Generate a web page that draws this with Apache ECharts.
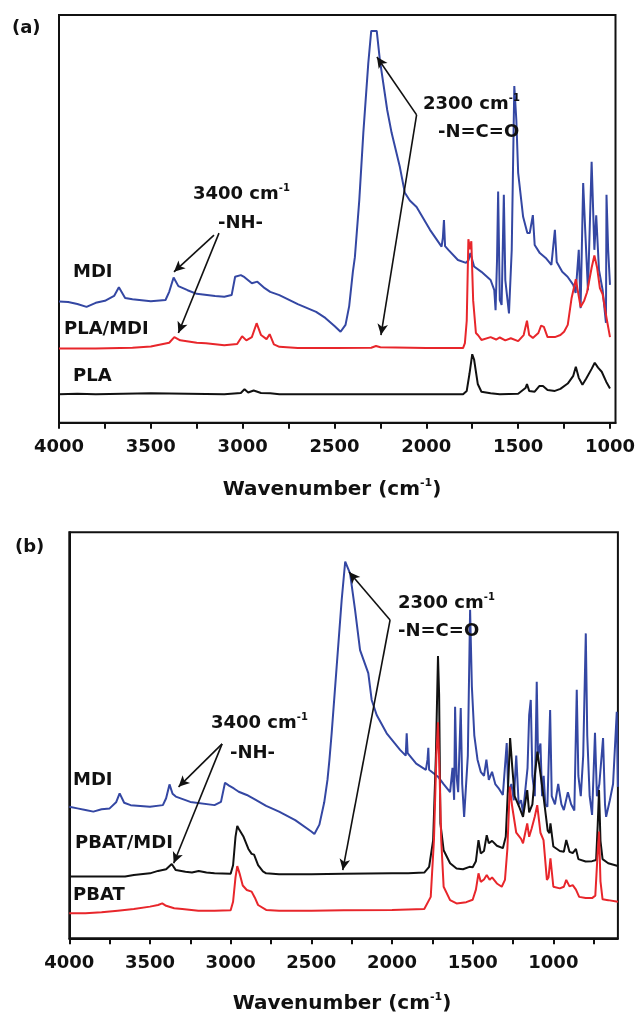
<!DOCTYPE html>
<html><head><meta charset="utf-8">
<script src="https://cdn.jsdelivr.net/npm/echarts@6/dist/echarts.min.js"></script>
<style>html,body{margin:0;padding:0;background:#fff}#c{width:636px;height:1016px}</style>
</head><body><div id="c"></div>
<script>
// ---------- Panel (a) data: [wavenumber (cm-1), relative intensity] ----------
const mdiA = [[4000,29.7],[3950,29.6],[3900,29.1],[3850,28.4],[3800,29.4],[3750,29.9],[3700,31.1],[3674,33.2],[3640,30.6],[3600,30.3],[3500,29.8],[3420,30.1],[3400,32.1],[3376,35.6],[3350,33.5],[3300,32.5],[3250,31.6],[3150,31.1],[3100,30.9],[3060,31.3],[3041,35.8],[3010,36.2],[2990,35.7],[2950,34.2],[2920,34.6],[2880,33.0],[2850,32.1],[2800,31.3],[2700,29.1],[2600,27.2],[2550,25.7],[2500,23.7],[2467,22.3],[2440,24.0],[2420,28.6],[2400,37.0],[2389,40.6],[2365,54.6],[2343,71.1],[2316,88.2],[2300,96.1],[2270,96.1],[2253,89.0],[2213,76.7],[2189,71.1],[2144,62.7],[2117,56.4],[2090,54.5],[2053,52.9],[1980,47.3],[1917,43.2],[1910,45.3],[1904,49.7],[1898,43.3],[1880,42.4],[1828,39.9],[1784,39.2],[1770,39.9],[1760,41.6],[1740,38.3],[1700,37.0],[1650,35.0],[1630,32.5],[1623,27.6],[1615,39.9],[1609,56.7],[1600,30.1],[1590,28.9],[1578,55.9],[1570,35.0],[1550,26.8],[1535,42.4],[1521,82.6],[1510,74.3],[1500,61.3],[1473,50.5],[1450,46.5],[1437,46.5],[1420,50.9],[1410,43.6],[1382,41.6],[1350,40.4],[1319,38.7],[1300,47.3],[1290,39.4],[1260,37.0],[1231,35.8],[1200,33.8],[1187,31.8],[1170,42.4],[1160,28.1],[1146,58.8],[1135,47.3],[1120,32.5],[1100,64.0],[1085,42.4],[1075,50.9],[1060,37.5],[1040,32.5],[1022,24.5],[1019,55.9],[1010,42.4],[1000,33.8]];
const plaMdiA = [[4000,18.2],[3800,18.2],[3600,18.4],[3500,18.7],[3400,19.6],[3372,21.0],[3340,20.2],[3250,19.6],[3200,19.5],[3100,19.0],[3030,19.3],[3003,21.2],[2980,20.2],[2950,21.0],[2924,24.4],[2900,21.5],[2870,20.5],[2853,21.7],[2830,19.2],[2800,18.6],[2700,18.3],[2500,18.3],[2300,18.4],[2274,18.8],[2250,18.5],[2000,18.3],[1800,18.3],[1790,19.5],[1780,25],[1771,45.0],[1762,42.5],[1755,44.5],[1745,30],[1730,22],[1717,21.4],[1700,20.3],[1650,21.0],[1620,20.4],[1600,20.9],[1570,20.2],[1540,20.7],[1500,20.0],[1470,21.5],[1452,25.0],[1440,21.5],[1420,20.8],[1390,22.0],[1375,23.8],[1360,23.5],[1340,21.0],[1300,21.0],[1270,21.5],[1250,22.3],[1230,24],[1209,30.6],[1186,35.2],[1170,31],[1160,28.4],[1140,30],[1125,32.0],[1100,38],[1085,41.0],[1070,38],[1055,33],[1040,31.5],[1020,26],[1000,21.0]];
const plaA = [[4000,7.0],[3900,7.1],[3800,7.0],[3500,7.2],[3100,7.0],[3010,7.3],[2990,8.2],[2970,7.4],[2940,7.9],[2900,7.3],[2850,7.2],[2800,7.0],[1800,7.0],[1780,7.8],[1765,12],[1750,16.8],[1740,15.5],[1720,9.5],[1700,7.6],[1650,7.2],[1600,7.0],[1500,7.1],[1460,8.5],[1452,9.5],[1440,7.8],[1410,7.6],[1385,9.0],[1365,9.0],[1340,8.0],[1300,7.8],[1270,8.3],[1230,9.6],[1200,11.5],[1186,13.7],[1170,11],[1150,9.3],[1130,10.8],[1100,13.2],[1083,14.7],[1065,13.5],[1045,12.5],[1020,10.0],[1000,8.4]];

// ---------- Panel (b) data ----------
const mdiB = [[4000,32.4],[3950,32.0],[3900,31.6],[3851,31.2],[3800,31.8],[3750,32.0],[3710,33.5],[3688,35.7],[3660,33.4],[3620,32.8],[3500,32.4],[3420,32.8],[3400,34.5],[3379,37.9],[3360,35.6],[3340,34.9],[3250,33.6],[3100,32.8],[3060,33.6],[3035,38.3],[3010,37.6],[2980,36.9],[2950,36.1],[2900,35.3],[2850,34.2],[2780,32.6],[2700,31.2],[2600,29.1],[2500,26.3],[2481,25.7],[2450,28.0],[2420,33.5],[2400,39.0],[2388,43.9],[2374,50.5],[2343,66.9],[2312,83.3],[2290,92.8],[2280,92.8],[2260,89.9],[2229,80.9],[2198,71.0],[2147,65.3],[2126,58.7],[2095,55.0],[2033,50.5],[1950,46.4],[1915,45.0],[1909,50.5],[1903,45.6],[1850,43.0],[1790,41.5],[1780,44.0],[1775,46.9],[1770,41.5],[1715,39.8],[1680,38.0],[1640,36.0],[1625,42.0],[1615,34.1],[1609,57.0],[1600,40.0],[1590,36.0],[1574,56.7],[1565,38.0],[1553,29.9],[1530,45.0],[1516,80.9],[1505,62.0],[1490,50.0],[1470,44.0],[1450,41.0],[1430,40.0],[1415,44.0],[1400,39.0],[1380,41.0],[1360,38.0],[1340,37.0],[1313,35.3],[1289,48.1],[1280,36.0],[1260,38.0],[1245,34.0],[1230,45.0],[1215,33.0],[1200,34.0],[1188,30.9],[1160,42.0],[1150,55.0],[1140,58.7],[1130,40.0],[1115,35.0],[1103,63.2],[1095,45.0],[1080,48.0],[1070,35.0],[1060,40.0],[1050,33.0],[1037,32.4],[1020,56.2],[1010,35.0],[990,33.0],[970,38.0],[950,33.0],[935,31.6],[910,36.0],[890,33.0],[870,31.5],[855,61.2],[845,40.0],[830,35.0],[815,45.0],[799,75.1],[790,50.0],[775,35.0],[760,30.4],[742,50.6],[730,35.0],[715,38.0],[692,49.3],[680,33.0],[673,29.9],[650,34.0],[630,38.0],[607,55.8],[600,37.3]];
const pbatMdiB = [[4000,15.2],[3800,15.2],[3654,15.2],[3600,15.6],[3500,16.0],[3450,16.6],[3400,17.0],[3365,18.3],[3340,16.8],[3280,16.4],[3240,16.2],[3198,16.6],[3150,16.2],[3100,16.0],[3000,15.9],[2985,18],[2970,25],[2959,27.7],[2950,27.0],[2940,27.4],[2920,25.0],[2890,22.0],[2870,20.8],[2855,20.6],[2830,18.0],[2800,16.5],[2780,16.0],[2700,15.8],[2500,15.8],[2300,15.9],[2000,16.0],[1900,16.0],[1800,16.2],[1770,17.6],[1745,24.2],[1728,45],[1715,69.5],[1708,60],[1700,28.3],[1680,21.7],[1640,18.5],[1600,17.2],[1560,17.0],[1520,17.6],[1500,17.5],[1480,19],[1464,24.2],[1450,20.9],[1430,21.5],[1413,25.4],[1400,23.4],[1380,24.0],[1350,22.8],[1313,22.2],[1295,25],[1280,38],[1268,49.3],[1255,42.3],[1240,35],[1212,32.4],[1188,29.9],[1162,36.5],[1150,31],[1130,33],[1115,40],[1099,46.0],[1085,42],[1061,34.9],[1035,26.5],[1024,25.9],[1018,28.3],[1000,22.6],[960,21.5],[935,21.3],[920,24.2],[900,21.3],[880,21.0],[860,22.0],[845,19.5],[800,18.9],[760,19.0],[735,19.3],[725,28],[717,36.5],[708,24],[695,19.5],[660,18.5],[600,17.8]];
const pbatB = [[4000,6.2],[3900,6.2],[3800,6.4],[3700,6.8],[3600,7.2],[3500,7.8],[3450,8.2],[3424,8.6],[3400,8.0],[3350,7.4],[3300,7.2],[3200,6.8],[3100,6.8],[3000,6.9],[2985,9],[2970,15],[2959,17.8],[2945,16.0],[2925,13.0],[2900,11.9],[2870,11.5],[2850,10.0],[2830,8.2],[2780,7.0],[2700,6.8],[2500,6.8],[2300,6.9],[2000,7.0],[1800,7.2],[1760,10.2],[1740,24.2],[1725,45],[1715,53.2],[1705,40],[1695,24.2],[1680,12.7],[1640,9.4],[1600,8.6],[1540,8.9],[1500,9.5],[1480,12],[1464,16.0],[1450,13.9],[1430,14.5],[1413,15.6],[1395,14.4],[1380,15.0],[1350,13.5],[1320,12.7],[1300,14.4],[1285,22],[1270,37.3],[1255,32.4],[1230,26],[1200,24.5],[1188,23.4],[1162,28.3],[1150,25.0],[1135,27],[1115,30],[1100,32.8],[1080,26],[1061,24.2],[1040,14.4],[1030,15],[1018,19.7],[1000,12.7],[960,12.3],[935,12.7],[920,14.4],[900,12.8],[880,13.1],[860,12.0],[840,10.2],[800,9.9],[760,9.9],[740,10.5],[727,20],[717,26.3],[708,14],[695,9.6],[660,9.4],[600,9.0]];

// ---------- tick values ----------
const ticksA = [4000,3750,3500,3250,3000,2750,2500,2250,2000,1750,1500,1250,1000];
const labelsA = [4000,3500,3000,2500,2000,1500,1000];
const ticksB = [4000,3750,3500,3250,3000,2750,2500,2250,2000,1750,1500,1250,1000,750];
const labelsB = [4000,3500,3000,2500,2000,1500,1000];

// ---------- annotation arrows (data coords: [from], [to]) ----------
const arrowsA = [[[3156,46.0],[3374,37.0]],[[3129,46.5],[3350,22.0]],[[2053,75.5],[2269,89.7]],[[2053,75.5],[2247,21.5]]];
const arrowsB = [[[3053,47.9],[3323,37.3]],[[3053,47.9],[3353,18.5]],[[2012,78.4],[2266,90.2]],[[2012,78.4],[2305,16.8]]];

const FF = '"DejaVu Sans", "Liberation Sans", Arial, sans-serif';
const INK = '#111';
const BLUE = '#3447a3', RED = '#e8262b', BLACK = '#111';

function xAx(grid, min, ticks, labels){
  return {type:'value', gridIndex:grid, min:min, max:4000, inverse:true,
    axisLine:{show:true, onZero:false, lineStyle:{color:INK, width:2}},
    axisTick:{show:true, customValues:ticks, length:6, inside:false, lineStyle:{color:INK, width:2}},
    axisLabel:{show:true, customValues:labels, margin:16, color:INK, fontFamily:FF, fontWeight:'bold', fontSize:18,
      formatter: v => String(v), hideOverlap:false},
    splitLine:{show:false}};
}
function yAx(grid){
  return {type:'value', gridIndex:grid, min:0, max:100,
    axisLine:{show:true, lineStyle:{color:INK, width:2}}, axisTick:{show:false},
    axisLabel:{show:false}, splitLine:{show:false}};
}
function ser(name, data, color, xi, arrows){
  const s = {name, type:'line', xAxisIndex:xi, yAxisIndex:xi, data, showSymbol:false, symbol:'none',
    lineStyle:{color, width:2}, itemStyle:{color}, animation:false, z:2};
  if (arrows){
    s.markLine = {silent:true, animation:false, symbol:['none','arrow'], symbolSize:[8,11],
      label:{show:false}, lineStyle:{color:INK, width:1.6, type:'solid'},
      emphasis:{disabled:true},
      data: arrows.map(a => [{coord:a[0]}, {coord:a[1]}])};
  }
  return s;
}
const rich = {
  m:{fontFamily:FF, fontWeight:'bold', fontSize:18, fill:INK, lineHeight:22},
  s:{fontFamily:FF, fontWeight:'bold', fontSize:10, fill:INK, verticalAlign:'top', lineHeight:22},
  w:{fontFamily:FF, fontWeight:'bold', fontSize:20, fill:INK, lineHeight:24},
  ws:{fontFamily:FF, fontWeight:'bold', fontSize:11, fill:INK, verticalAlign:'top', lineHeight:24}
};
function T(x, y, text, align){
  return {type:'text', x, y, silent:true, z:10,
    style:{text, rich, textAlign:align||'left', textVerticalAlign:'middle', fill:INK,
      font:'bold 18px ' + FF}};
}

const chart = echarts.init(document.getElementById('c'), null, {renderer:'canvas'});
chart.setOption({
  backgroundColor:'#fff',
  animation:false,
  grid:[
    {left:59, top:15, width:556.5, height:407.7, show:true, borderColor:INK, borderWidth:2, backgroundColor:'transparent', containLabel:false, outerBoundsMode:'none'},
    {left:69.3, top:532.3, width:548.6, height:406, show:true, borderColor:INK, borderWidth:2, backgroundColor:'transparent', containLabel:false, outerBoundsMode:'none'}
  ],
  xAxis:[xAx(0, 970, ticksA, labelsA), xAx(1, 600, ticksB, labelsB)],
  yAxis:[yAx(0), yAx(1)],
  series:[
    ser('MDI', mdiA, BLUE, 0, arrowsA),
    ser('PLA/MDI', plaMdiA, RED, 0),
    ser('PLA', plaA, BLACK, 0),
    ser('MDI', mdiB, BLUE, 1, arrowsB),
    ser('PBAT/MDI', pbatMdiB, BLACK, 1),
    ser('PBAT', pbatB, RED, 1)
  ],
  graphic:[
    T(12, 28, '{m|(a)}'),
    T(73, 272, '{m|MDI}'),
    T(64, 329, '{m|PLA/MDI}'),
    T(73, 376, '{m|PLA}'),
    T(193, 194, '{m|3400 cm}{s|-1}'),
    T(218, 223, '{m|-NH-}'),
    T(423, 104, '{m|2300 cm}{s|-1}'),
    T(438, 132, '{m|-N=C=O}'),
    T(332, 490, '{w|Wavenumber (cm}{ws|-1}{w|)}', 'center'),
    T(15, 547, '{m|(b)}'),
    T(73, 780, '{m|MDI}'),
    T(75, 843, '{m|PBAT/MDI}'),
    T(73, 895, '{m|PBAT}'),
    T(211, 723, '{m|3400 cm}{s|-1}'),
    T(230, 753, '{m|-NH-}'),
    T(398, 603, '{m|2300 cm}{s|-1}'),
    T(398, 631, '{m|-N=C=O}'),
    T(342, 1004, '{w|Wavenumber (cm}{ws|-1}{w|)}', 'center')
  ]
});
</script></body></html>
